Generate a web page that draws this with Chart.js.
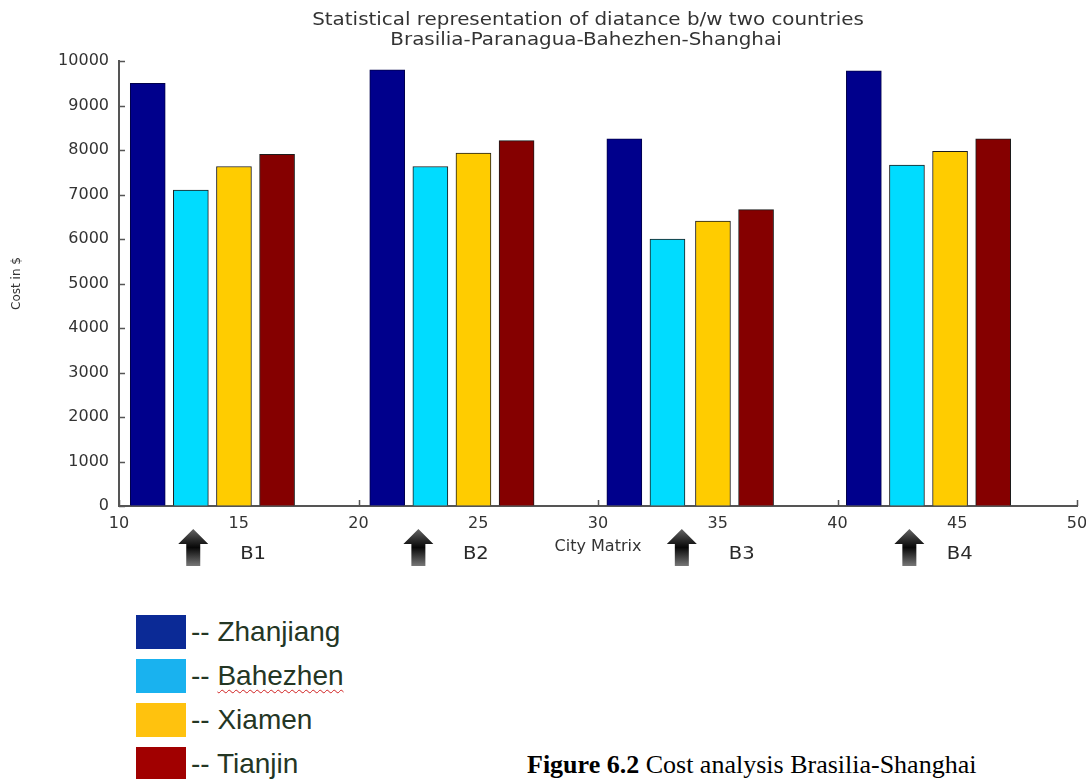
<!DOCTYPE html>
<html>
<head>
<meta charset="utf-8">
<title>Cost analysis Brasilia-Shanghai</title>
<script src="https://cdn.jsdelivr.net/npm/chart.js@4.4.1/dist/chart.umd.min.js"></script>
<style>
  html, body { margin: 0; padding: 0; background: #fff; }
  body { width: 1086px; height: 779px; position: relative; overflow: hidden; }
  #chartBox { position: absolute; left: 0; top: 0; width: 1086px; height: 580px; }
  #legend { position: absolute; left: 136px; top: 610px; font-family: "Liberation Sans", Arial, sans-serif; }
  #legend .row { display: flex; align-items: center; height: 44px; }
  #legend .sw { width: 50px; height: 34px; margin-right: 5px; }
  #legend .lbl { font-size: 28px; color: #243624; white-space: nowrap; }
  #legend .lbl.spell { text-decoration: underline wavy #d02020; text-decoration-thickness: 1px; text-underline-offset: 4px; }
  #caption { position: absolute; left: 527px; top: 750px; font-family: "Liberation Serif", "Times New Roman", serif;
             font-size: 26px; color: #000; white-space: nowrap; }
</style>
</head>
<body>
<div id="chartBox"><canvas id="costChart"></canvas></div>
<div id="legend"></div>
<div id="caption"><b>Figure 6.2</b> Cost analysis Brasilia-Shanghai</div>

<script>
// series + values
const seriesNames = ['Zhanjiang', 'Bahezhen', 'Xiamen', 'Tianjin'];

// x position of each bar on the "City Matrix" axis
const xZhanjiang = [11.2, 21.2, 31.1, 41.1];
const xBahezhen  = [13.0, 23.0, 32.9, 42.9];
const xXiamen    = [14.8, 24.8, 34.8, 44.7];
const xTianjin   = [16.6, 26.6, 36.6, 46.5];

// cost in $
const zhanjiang = [9500, 9800, 8250, 9780];
const bahezhen  = [7100, 7630, 6000, 7660];
const xiamen    = [7630, 7930, 6400, 7970];
const tianjin   = [7900, 8210, 6660, 8250];

// block markers under the axis (B1..B4)
const blockLabels  = ['B1', 'B2', 'B3', 'B4'];
const blockArrowAt = [13.1, 22.5, 33.5, 43.0];
const blockLabelAt = [15.6, 24.9, 36.0, 45.1];

const titleLines = ['Statistical representation of diatance b/w two countries',
                    'Brasilia-Paranagua-Bahezhen-Shanghai'];

const barColors    = ['#00008c', '#00dcff', '#ffcc00', '#850000'];
const legendColors = ['#0b2a96', '#19b2ef', '#ffc20e', '#a10000'];

const xs = [xZhanjiang, xBahezhen, xXiamen, xTianjin];
const ys = [zhanjiang, bahezhen, xiamen, tianjin];

Chart.defaults.font.family = '"DejaVu Sans", Arial, sans-serif';
Chart.defaults.color = '#333';

// the old figure is a bit stretched sideways, so the hand drawn text is too
function wideText(ctx, text, cx, y, stretch) {
    ctx.save();
    ctx.translate(cx, y);
    ctx.scale(stretch, 1);
    ctx.fillText(text, 0, 0);
    ctx.restore();
}

// titles, MATLAB style inward ticks and the block arrows
const decorations = {
    id: 'decorations',
    beforeDatasetsDraw(chart) {
        const { ctx, chartArea, scales: { x, y } } = chart;
        ctx.save();
        ctx.strokeStyle = '#555';
        ctx.lineWidth = 1.5;
        ctx.beginPath();
        y.ticks.forEach(t => {
            const py = Math.round(y.getPixelForValue(t.value)) + 0.5;
            ctx.moveTo(chartArea.left, py);
            ctx.lineTo(chartArea.left + 6, py);
        });
        x.ticks.forEach(t => {
            const px = Math.round(x.getPixelForValue(t.value)) + 0.5;
            ctx.moveTo(px, chartArea.bottom);
            ctx.lineTo(px, chartArea.bottom - 6);
        });
        ctx.stroke();
        ctx.restore();
    },
    afterDraw(chart) {
        const { ctx, scales: { x } } = chart;
        ctx.save();

        ctx.fillStyle = '#333';
        ctx.font = '17px "DejaVu Sans"';
        ctx.textAlign = 'center';
        ctx.textBaseline = 'alphabetic';
        wideText(ctx, titleLines[0], 588, 25, 1.17);
        wideText(ctx, titleLines[1], 586, 45, 1.17);

        blockArrowAt.forEach(v => {
            const px = x.getPixelForValue(v);
            const g = ctx.createLinearGradient(0, 529, 0, 566);
            g.addColorStop(0, '#666');
            g.addColorStop(0.3, '#2a2a2a');
            g.addColorStop(0.5, '#080808');
            g.addColorStop(0.8, '#4a4a4a');
            g.addColorStop(1, '#777');
            ctx.fillStyle = g;
            ctx.beginPath();
            ctx.moveTo(px, 529);
            ctx.lineTo(px + 15, 544);
            ctx.lineTo(px + 7, 544);
            ctx.lineTo(px + 7, 566);
            ctx.lineTo(px - 7, 566);
            ctx.lineTo(px - 7, 544);
            ctx.lineTo(px - 15, 544);
            ctx.closePath();
            ctx.fill();
        });

        ctx.fillStyle = '#2a2a2a';
        ctx.font = '17px "DejaVu Sans"';
        blockLabels.forEach((lab, i) => {
            wideText(ctx, lab, x.getPixelForValue(blockLabelAt[i]), 559, 1.15);
        });
        ctx.restore();
    }
};

new Chart(document.getElementById('costChart'), {
    type: 'bar',
    data: {
        datasets: seriesNames.map((name, i) => ({
            label: name,
            data: xs[i].map((xv, j) => ({ x: xv, y: ys[i][j] })),
            backgroundColor: barColors[i],
            borderColor: i === 0 ? '#00004a' : '#1c1c1c',
            borderWidth: 1,
            barThickness: 35,
            grouped: false
        }))
    },
    options: {
        responsive: true,
        maintainAspectRatio: false,
        animation: false,
        layout: { padding: { top: 61, left: 0, right: 9, bottom: 20 } },
        plugins: {
            legend: { display: false },
            tooltip: { enabled: false }
        },
        scales: {
            x: {
                type: 'linear',
                min: 10,
                max: 50,
                offset: false,
                grid: { display: true, drawOnChartArea: false, drawTicks: false },
                border: { display: true, color: '#555', width: 2 },
                ticks: { stepSize: 5, padding: 8, color: '#333', font: { size: 16 }, maxRotation: 0 },
                title: { display: true, text: 'City Matrix', color: '#333', font: { size: 16 }, padding: { top: 0, bottom: 4 } },
                afterFit(scale) { scale.height = 54; scale.paddingRight = 0; scale.paddingLeft = 0; }
            },
            y: {
                min: 0,
                max: 10000,
                grid: { display: true, drawOnChartArea: false, drawTicks: false },
                border: { display: true, color: '#555', width: 2 },
                ticks: { stepSize: 1000, padding: 10, color: '#333', font: { size: 16 }, callback: v => String(v) },
                title: { display: true, text: 'Cost in $', color: '#333', font: { size: 12 }, padding: { top: 10, bottom: 0 } },
                afterFit(scale) { scale.width = 119; scale.paddingTop = 0; scale.paddingBottom = 0; }
            }
        }
    },
    plugins: [decorations]
});

// image-style legend under the figure
const legendEl = document.getElementById('legend');
seriesNames.forEach((name, i) => {
    const row = document.createElement('div');
    row.className = 'row';
    const sw = document.createElement('div');
    sw.className = 'sw';
    sw.style.background = legendColors[i];
    const lbl = document.createElement('span');
    lbl.className = 'lbl';
    if (name === 'Bahezhen') {
        lbl.innerHTML = '-- <span class="lbl spell">' + name + '</span>';
    } else {
        lbl.textContent = '-- ' + name;
    }
    row.appendChild(sw);
    row.appendChild(lbl);
    legendEl.appendChild(row);
});
</script>
</body>
</html>
